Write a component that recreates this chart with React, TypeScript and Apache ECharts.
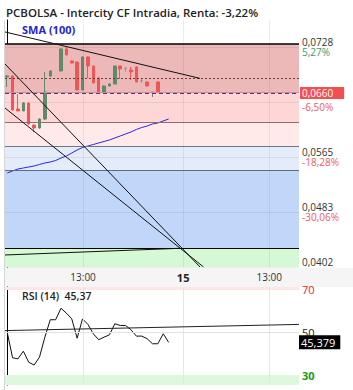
import React, { useEffect, useRef } from "react";
import * as echarts from "echarts";

const titleText = "PCBOLSA - Intercity CF Intradia, Renta: -3,22%";
const smaLabel = "SMA (100)";
const rsiLabel = "RSI (14)  45,37";

// 15-minute slots (slot 0 = first candle of the 14th)
const candleSlots = [0, 1, 2, 3, 4, 5, 6, 7, 8, 10, 11, 12, 13, 14, 15, 16, 17, 18, 19, 20, 21, 22, 23, 24, 25, 26, 27, 28];
const candleOpen = [0.06836, 0.0685, 0.06361, 0.06332, 0.0645, 0.06124, 0.0608, 0.06213, 0.0685, 0.06925, 0.07251, 0.07073, 0.07058, 0.06643, 0.07132, 0.06999, 0.06821, 0.06613, 0.06702, 0.06732, 0.06999, 0.0696, 0.06939, 0.06984, 0.0678, 0.06762, 0.066, 0.06762];
const candleClose = [0.0685, 0.06347, 0.06332, 0.0645, 0.06139, 0.0608, 0.06213, 0.06613, 0.06925, 0.07251, 0.07162, 0.07043, 0.06643, 0.07132, 0.06999, 0.06747, 0.06613, 0.06702, 0.06732, 0.06999, 0.06954, 0.0696, 0.0691, 0.06762, 0.0678, 0.06702, 0.06613, 0.06613];
const candleLow = [0.06687, 0.0634, 0.0633, 0.0633, 0.0613, 0.06021, 0.0607, 0.062, 0.0684, 0.0692, 0.0716, 0.0704, 0.0664, 0.0664, 0.06821, 0.0674, 0.0661, 0.0661, 0.067, 0.0673, 0.06806, 0.0691, 0.06791, 0.0676, 0.06747, 0.067, 0.06539, 0.066];
const candleHigh = [0.0686, 0.0686, 0.06584, 0.0646, 0.0645, 0.0613, 0.0622, 0.0691, 0.0693, 0.0726, 0.0728, 0.0708, 0.0706, 0.0714, 0.0714, 0.07, 0.0683, 0.0671, 0.0674, 0.07, 0.07, 0.06984, 0.06984, 0.0699, 0.06806, 0.0677, 0.06613, 0.0677];

const indicatorSlots = [0, 1, 2, 3, 4, 5, 6, 7, 8, 9, 10, 11, 12, 13, 14, 15, 16, 17, 18, 19, 20, 21, 22, 23, 24, 25, 26, 27, 28, 29, 30];
const smaValues = [0.05413, 0.05443, 0.05472, 0.05487, 0.05502, 0.05517, 0.05539, 0.05561, 0.05576, 0.05598, 0.05635, 0.05665, 0.05709, 0.05754, 0.05791, 0.05813, 0.05835, 0.05858, 0.0588, 0.05902, 0.05932, 0.05961, 0.05991, 0.06021, 0.06058, 0.06087, 0.06109, 0.06139, 0.06154, 0.06184, 0.06213];
const rsiValues = [50.1, 38.1, 37.6, 41.2, 36.0, 34.7, 38.4, 47.8, 56.0, 56.0, 61.4, 59.1, 56.4, 47.3, 56.4, 53.8, 49.4, 46.6, 47.8, 48.9, 54.1, 53.3, 53.3, 51.3, 48.3, 48.3, 47.1, 44.7, 44.7, 49.4, 45.379];

const lastPrice = 0.066;
const lastPriceLabel = "0,0660";
const prevClose = 0.0682;
const lastRsi = 45.379;
const lastRsiLabel = "45,379";

// Fibonacci retracement levels: 0%, 23.6%, 38.2%, 50%, 61.8%, 100%
const fibLevels = [0.07325, 0.06612, 0.0617, 0.05814, 0.05457, 0.04302];

const priceTickValues = [0.0402, 0.04835, 0.0565, 0.06465, 0.0728];
// the 0,0647 price text sits under the last-price box in the reference
const priceTickLabels = ["0,0402", "0,0483", "0,0565", "", "0,0728"];
const priceTickPcts = ["", "-30,06%", "-18,28%", "-6,50%", "5,27%"];

const timeTickSlots = [14.1, 32.7, 48.7];
const timeTickLabels = ["13:00", "15", "13:00"];
const timeTickBold = [false, true, false];

const rsiTickValues = [30, 50, 70];
const rsiTickLabels = ["30", "50", "70"];
const rsiTickStyles = ["g", "k", "r"];

const priceMin = 0.0402;
const priceMax = 0.0768;
const rsiMin = 25.3;
const rsiMax = 71.4;
const slotMin = -0.41;
const slotMax = 54.23;

const trendLines = [
  [[-0.41, 0.07503], [35.84, 0.06815]],
  [[-0.41, 0.07028], [35.84, 0.0402]],
  [[-0.41, 0.06376], [36.5, 0.0402]],
  [[-0.41, 0.04198], [32.1, 0.04297]],
];
const rsiTrend = [[-0.41, 50.9], [54.23, 53.8]];

const FONT = "'Open Sans', 'Noto Sans', sans-serif";

function nearestIndex(arr: number[], v: number) {
  let best = 0;
  for (let i = 1; i < arr.length; i++) {
    if (Math.abs(arr[i] - v) < Math.abs(arr[best] - v)) best = i;
  }
  return best;
}

export default function App() {
  const ref = useRef<HTMLDivElement>(null);
  useEffect(() => {
    if (!ref.current) return;
    const chart = echarts.init(ref.current, null, { renderer: "svg" });

    const upColor = "#5f8a6c";
    const downColor = "#f05656";
    const dojiColor = "#8a9a8e";
    const candleData = candleSlots.map((s, i) => {
      const o = candleOpen[i];
      const c = candleClose[i];
      const item: any = { value: [s, o, c, candleLow[i], candleHigh[i]] };
      if (o === c) {
        item.itemStyle = { color: dojiColor, color0: dojiColor, borderColor: dojiColor, borderColor0: dojiColor };
      }
      return item;
    });

    const gridV = "rgba(60,60,90,0.09)";
    const fibLineColors = ["#000000", "#c89090", "#8c6e6e", "#6e7888", "#5e6c80", "#000000"];
    const fibLineWidths = [1.5, 1, 1, 1, 1, 1];
    const bandColors = ["#ecb8b8", "#fed6d6", "#ffe9e9", "#e3ecf8", "#c0d7fa"];

    const bandAreas: any[] = [];
    for (let i = 0; i < fibLevels.length - 1; i++) {
      bandAreas.push([
        { yAxis: fibLevels[i], itemStyle: { color: bandColors[i] } },
        { yAxis: fibLevels[i + 1] },
      ]);
    }
    bandAreas.push([
      { yAxis: fibLevels[fibLevels.length - 1], itemStyle: { color: "#d5f8d5" } },
      { yAxis: priceMin },
    ]);

    const mainMarkLines: any[] = [];
    timeTickSlots.forEach((s) => mainMarkLines.push({ xAxis: s, lineStyle: { color: gridV, width: 1, type: "solid" } }));
    priceTickValues.forEach((v) => mainMarkLines.push({ yAxis: v, lineStyle: { color: gridV, width: 1, type: "solid" } }));
    fibLevels.forEach((v, i) =>
      mainMarkLines.push({ yAxis: v, lineStyle: { color: fibLineColors[i], width: fibLineWidths[i], type: "solid" } })
    );
    mainMarkLines.push({ yAxis: prevClose, lineStyle: { color: "#6e3c3c", width: 1, type: [2, 2] } });

    const rsiMarkLines: any[] = [];
    timeTickSlots.forEach((s) => rsiMarkLines.push({ xAxis: s, lineStyle: { color: "#e6e6e6", width: 1, type: "solid" } }));
    rsiMarkLines.push({ yAxis: 50, lineStyle: { color: "#e2e2e2", width: 1, type: "solid" } });

    const trendSeries = trendLines.map((pts) => ({
      type: "line",
      xAxisIndex: 0,
      yAxisIndex: 0,
      data: pts,
      symbol: "none",
      silent: true,
      z: 5,
      lineStyle: { color: "#111", width: 1 },
    }));

    const option: any = {
      animation: false,
      backgroundColor: "#fff",
      textStyle: { fontFamily: FONT },
      grid: [
        { left: 5, right: 54, top: 20, height: 247 },
        { left: 5, right: 54, top: 287, height: 98 },
      ],
      xAxis: [
        {
          gridIndex: 0,
          type: "value",
          min: slotMin,
          max: slotMax,
          axisLine: { show: false },
          axisTick: { show: false },
          splitLine: { show: false },
          axisLabel: {
            customValues: timeTickSlots,
            margin: 5,
            formatter: (v: number) => {
              const i = nearestIndex(timeTickSlots, v);
              return timeTickBold[i] ? `{b|${timeTickLabels[i]}}` : `{n|${timeTickLabels[i]}}`;
            },
            rich: {
              n: { fontSize: 10, color: "#333", fontFamily: FONT },
              b: { fontSize: 11, color: "#222", fontWeight: "bold", fontFamily: FONT },
            },
          },
        },
        {
          gridIndex: 1,
          type: "value",
          min: slotMin,
          max: slotMax,
          show: false,
          splitLine: { show: false },
        },
      ],
      yAxis: [
        {
          gridIndex: 0,
          type: "value",
          position: "right",
          min: priceMin,
          max: priceMax,
          axisLine: { show: true, lineStyle: { color: "#000", width: 1 } },
          axisTick: { show: false },
          splitLine: { show: false },
          axisLabel: {
            customValues: priceTickValues,
            margin: 3,
            formatter: (v: number) => {
              const i = nearestIndex(priceTickValues, v);
              const pct = priceTickPcts[i];
              const style = pct.startsWith("-") ? "r" : "g";
              return `{v|${priceTickLabels[i] || " "}}\n{${style}|${pct || " "}}`;
            },
            rich: {
              v: { fontSize: 10, lineHeight: 10, color: "#333", fontFamily: FONT },
              g: { fontSize: 10, lineHeight: 10, color: "#3a9a6c", fontFamily: FONT },
              r: { fontSize: 10, lineHeight: 10, color: "#f25a5a", fontFamily: FONT },
            },
          },
        },
        {
          gridIndex: 1,
          type: "value",
          position: "right",
          min: rsiMin,
          max: rsiMax,
          axisLine: { show: true, lineStyle: { color: "#000", width: 1 } },
          axisTick: { show: false },
          splitLine: { show: false },
          axisLabel: {
            customValues: rsiTickValues,
            margin: 3,
            formatter: (v: number) => {
              const i = nearestIndex(rsiTickValues, v);
              return `{${rsiTickStyles[i]}|${rsiTickLabels[i]}}`;
            },
            rich: {
              r: { fontSize: 11, color: "#f21c1c", fontFamily: FONT },
              k: { fontSize: 11, color: "#222", fontFamily: FONT },
              g: { fontSize: 11, color: "#159a15", fontWeight: "bold", fontFamily: FONT },
            },
          },
        },
      ],
      graphic: [
        {
          type: "rect",
          z: -5,
          shape: { x: 5, y: 268, width: 348, height: 19 },
          style: { fill: "#f5f5f5" },
          silent: true,
        },
        {
          type: "line",
          z: 10,
          shape: { x1: 4.5, y1: 20, x2: 4.5, y2: 390 },
          style: { stroke: "#d6d6d6", lineWidth: 1 },
          silent: true,
        },
        {
          type: "text",
          x: 6,
          y: 12,
          z: 10,
          style: {
            text: titleText,
            fill: "#222",
            font: `600 11.5px ${FONT}`,
            verticalAlign: "middle",
          },
        },
        {
          type: "text",
          x: 22,
          y: 29,
          z: 10,
          style: {
            text: smaLabel,
            fill: "#2424d4",
            font: `bold 11px ${FONT}`,
            verticalAlign: "middle",
          },
        },
        {
          type: "text",
          x: 22,
          y: 296,
          z: 10,
          style: {
            text: rsiLabel,
            fill: "#222",
            font: `600 10.5px ${FONT}`,
            verticalAlign: "middle",
          },
        },
      ],
      series: [
        {
          type: "line",
          name: "bands",
          xAxisIndex: 0,
          yAxisIndex: 0,
          data: [[slotMin, lastPrice]],
          symbol: "none",
          silent: true,
          z: 1,
          lineStyle: { width: 0, opacity: 0 },
          markArea: { silent: true, data: bandAreas },
          markLine: {
            silent: true,
            precision: 6,
            symbol: ["none", "none"],
            label: { show: false },
            data: mainMarkLines,
          },
        },
        {
          type: "candlestick",
          name: "PCBOLSA",
          xAxisIndex: 0,
          yAxisIndex: 0,
          encode: { x: 0, y: [1, 2, 3, 4] },
          data: candleData,
          barWidth: 3,
          z: 3,
          itemStyle: {
            color: upColor,
            color0: downColor,
            borderColor: upColor,
            borderColor0: downColor,
            borderWidth: 1,
          },
          markLine: {
            silent: true,
            precision: 6,
            symbol: ["none", "none"],
            data: [
              {
                yAxis: lastPrice,
                lineStyle: { color: "#5b2f95", width: 1, type: [4, 3] },
                label: {
                  show: true,
                  position: "end",
                  distance: 1,
                  formatter: lastPriceLabel,
                  color: "#fff",
                  backgroundColor: "#f25050",
                  fontSize: 10,
                  lineHeight: 12,
                  padding: [0, 11, 0, 2],
                  fontFamily: FONT,
                },
              },
            ],
          },
        },
        {
          type: "line",
          name: "SMA (100)",
          xAxisIndex: 0,
          yAxisIndex: 0,
          data: indicatorSlots.map((s, i) => [s, smaValues[i]]),
          symbol: "none",
          silent: true,
          z: 4,
          lineStyle: { color: "#2828e6", width: 1 },
        },
        ...trendSeries,
        {
          type: "line",
          name: "rsiBands",
          xAxisIndex: 1,
          yAxisIndex: 1,
          data: [[slotMin, 50]],
          symbol: "none",
          silent: true,
          z: 1,
          lineStyle: { width: 0, opacity: 0 },
          markArea: {
            silent: true,
            data: [
              [{ yAxis: 70, itemStyle: { color: "#fde6e6" } }, { yAxis: rsiMax }],
              [{ yAxis: rsiMin, itemStyle: { color: "#def8de" } }, { yAxis: 30 }],
            ],
          },
          markLine: {
            silent: true,
            precision: 4,
            symbol: ["none", "none"],
            label: { show: false },
            data: rsiMarkLines,
          },
        },
        {
          type: "line",
          name: "RSI (14)",
          xAxisIndex: 1,
          yAxisIndex: 1,
          data: indicatorSlots.map((s, i) => [s, rsiValues[i]]),
          symbol: "none",
          silent: true,
          z: 4,
          lineStyle: { color: "#111", width: 1 },
          markLine: {
            silent: true,
            precision: 4,
            symbol: ["none", "none"],
            data: [
              {
                yAxis: lastRsi,
                lineStyle: { color: "rgba(0,0,0,0)", width: 0 },
                label: {
                  show: true,
                  position: "end",
                  distance: 0,
                  formatter: lastRsiLabel,
                  color: "#fff",
                  backgroundColor: "#000",
                  opacity: 1,
                  fontSize: 11,
                  lineHeight: 14,
                  padding: [0, 5, 0, 2],
                  fontFamily: FONT,
                },
              },
            ],
          },
        },
        {
          type: "line",
          name: "rsiTrend",
          xAxisIndex: 1,
          yAxisIndex: 1,
          data: rsiTrend,
          symbol: "none",
          silent: true,
          z: 5,
          lineStyle: { color: "#222", width: 1 },
        },
      ],
    };
    chart.setOption(option);
    return () => chart.dispose();
  }, []);

  return (
    <div
      ref={ref}
      style={{ position: "fixed", left: 0, top: 0, width: 353, height: 390, background: "#fff" }}
    />
  );
}
